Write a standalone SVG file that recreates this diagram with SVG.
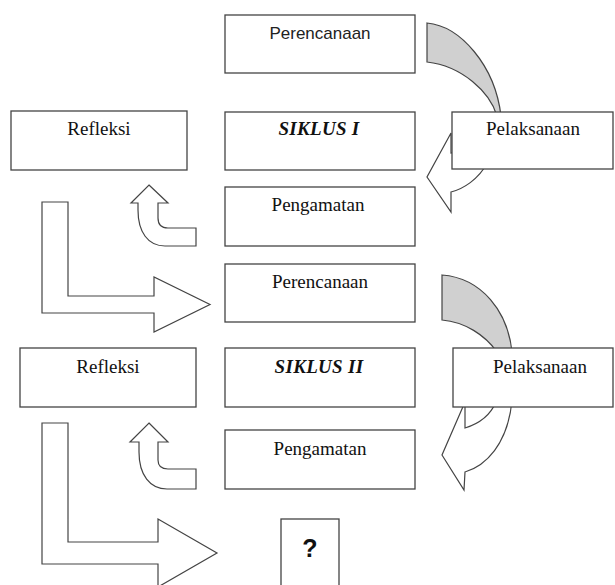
<svg xmlns="http://www.w3.org/2000/svg" width="615" height="585" viewBox="0 0 615 585">
<style>
.box{fill:#fff;stroke:#444;stroke-width:1.3}
.arr{fill:#fff;stroke:#444;stroke-width:1.2;stroke-linejoin:miter}
.back{fill:#d0d0d0;stroke:#444;stroke-width:1.2}
.t{font-family:"Liberation Serif","Times New Roman",serif;font-size:19px;fill:#111;text-anchor:middle}
.b{font-weight:bold;font-style:italic;letter-spacing:0.3px}
.s{font-family:"Liberation Sans",Arial,sans-serif;font-size:17px;fill:#222;text-anchor:middle}
</style>
<rect width="615" height="585" fill="#fff"/>
<g id="connectors">
<path class="back" d="M427,23 C460,26 495,65 501,116 L497,116 C490,92 462,66 427,62 Z"/>
<path class="arr" d="M451,133 L427,177 L451,212 L451,192 C463,189 478,180 488,162 L488,150 L470,150 L451,153 Z"/>
<path class="back" d="M442,275 C482,278 508,312 512,352 L497,352 C485,335 465,322 442,320 Z"/>
<path class="arr" d="M465,402 L442,455 L464,490 L465,472 C485,466 508,445 512,400 L512,390 L497,390 L496,402 C490,416 478,424 465,428 Z"/>
<path class="arr" d="M42,202 L68,202 L68,296 L154,296 L154,277 L210,304.5 L154,332 L154,313 L42,313 Z"/>
<path class="arr" d="M42,423 L68,423 L68,542 L158,542 L158,519 L217,553 L158,587 L158,564 L42,564 Z"/>
<path class="arr" d="M149,185 L168,203 L158,203 L158,218 C158,225 162,228 168,228 L196,228 L196,246 L165,246 C148,246 138,232 138,210 L138,203 L131,203 Z"/>
<path class="arr" d="M149,423 L168,442 L158,442 L158,460 C158,466 162,469 168,469 L196,469 L196,489 L167,489 C150,489 139,475 139,452 L139,442 L130,442 Z"/>
</g>
<g id="perencanaan1"><rect class="box" x="225" y="15" width="190" height="58"/><text class="s" x="320" y="39">Perencanaan</text></g>
<g id="refleksi1"><rect class="box" x="11" y="111" width="176" height="59"/><text class="t" x="99" y="135">Refleksi</text></g>
<g id="siklus1"><rect class="box" x="225" y="112" width="190" height="58"/><text class="t b" x="319" y="135">SIKLUS I</text></g>
<g id="pelaksanaan1"><rect class="box" x="452" y="112" width="161" height="57"/><text class="t" x="533" y="135">Pelaksanaan</text></g>
<g id="pengamatan1"><rect class="box" x="225" y="187" width="190" height="59"/><text class="t" x="318" y="211">Pengamatan</text></g>
<g id="perencanaan2"><rect class="box" x="225" y="264" width="190" height="58"/><text class="t" x="320" y="288">Perencanaan</text></g>
<g id="refleksi2"><rect class="box" x="20" y="348" width="176" height="59"/><text class="t" x="108" y="373">Refleksi</text></g>
<g id="siklus2"><rect class="box" x="225" y="348" width="190" height="59"/><text class="t b" x="319" y="373">SIKLUS II</text></g>
<g id="pelaksanaan2"><rect class="box" x="453" y="348" width="160" height="59"/><text class="t" x="540" y="373">Pelaksanaan</text></g>
<g id="pengamatan2"><rect class="box" x="225" y="430" width="190" height="59"/><text class="t" x="320" y="455">Pengamatan</text></g>
<g id="next"><rect class="box" x="281" y="519" width="58" height="72"/><text x="310" y="557" font-family="'Liberation Sans',Arial,sans-serif" font-weight="bold" font-size="25" fill="#111" text-anchor="middle">?</text></g>
</svg>
